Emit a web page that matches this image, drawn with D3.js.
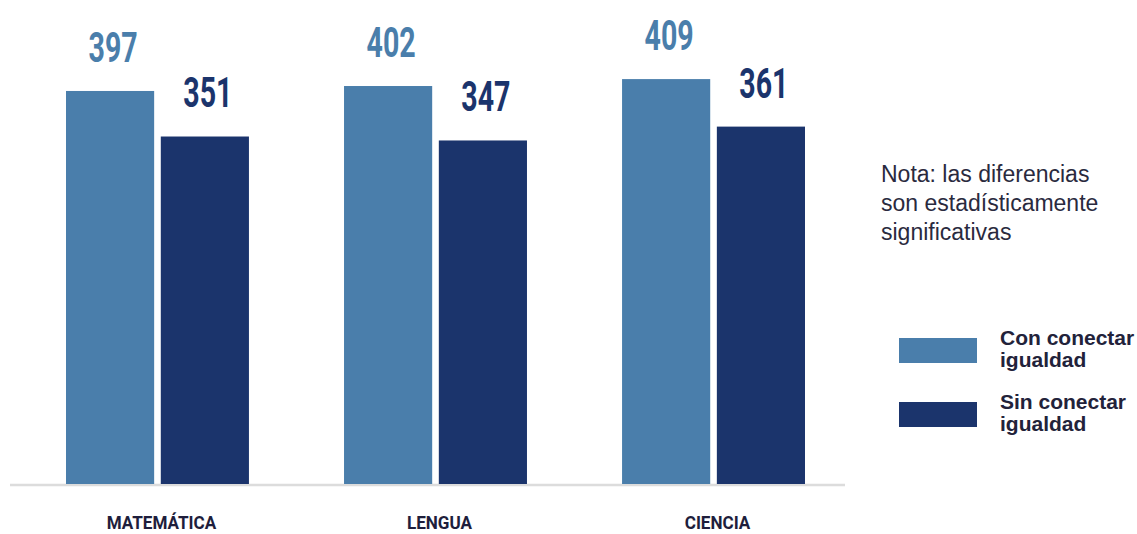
<!DOCTYPE html>
<html>
<head>
<meta charset="utf-8">
<script src="https://cdn.jsdelivr.net/npm/d3@7"></script>
<style>
  body { margin: 0; background: #fff; }
  svg { display: block; }
</style>
</head>
<body>
<div id="chart"></div>
<script>
const categories = ["MATEMÁTICA", "LENGUA", "CIENCIA"];
const seriesNames = ["Con conectar igualdad", "Sin conectar igualdad"];
const conValues = [397, 402, 409];
const sinValues = [351, 347, 361];
const noteLines = ["Nota: las diferencias", "son estadísticamente", "significativas"];
const legendLines = [["Con conectar", "igualdad"], ["Sin conectar", "igualdad"]];

const colors = ["#4a7eab", "#1b346c"];

const data = categories.map((c, i) => ({cat: c, values: [conValues[i], sinValues[i]]}));

const svg = d3.select("#chart").append("svg")
    .attr("width", 1137)
    .attr("height", 534);

const x0 = d3.scaleBand().domain(categories).range([66, 805]).paddingInner(0.342).paddingOuter(0);
const x1 = d3.scaleBand().domain([0, 1]).range([0, x0.bandwidth()]).paddingInner(0.07);
const y = d3.scaleLinear().domain([0, 400]).range([484, 88]);

// baseline
svg.append("line")
    .attr("x1", 10).attr("x2", 845)
    .attr("y1", 485).attr("y2", 485)
    .attr("stroke", "#dcdcdc").attr("stroke-width", 2.5);

const groups = svg.selectAll("g.grp")
    .data(data)
    .join("g")
    .attr("class", "grp")
    .attr("transform", d => `translate(${x0(d.cat)},0)`);

groups.selectAll("rect")
    .data(d => d.values.map((v, k) => ({k, v})))
    .join("rect")
    .attr("x", d => x1(d.k))
    .attr("y", d => y(d.v))
    .attr("width", x1.bandwidth())
    .attr("height", d => y(0) - y(d.v))
    .attr("fill", d => colors[d.k]);

// condensed labels: scale text horizontally about its anchor
const condense = (sel, sx) => sel.each(function() {
    const t = d3.select(this);
    const cx = +t.attr("x"), cy = +t.attr("y");
    t.attr("transform", `translate(${cx},${cy}) scale(${sx},1) translate(${-cx},${-cy})`);
});

groups.selectAll("text.val")
    .data(d => d.values.map((v, k) => ({k, v})))
    .join("text")
    .attr("class", "val")
    .attr("x", d => x1(d.k) + x1.bandwidth() / 2 + 3)
    .attr("y", d => y(d.v) - 29)
    .attr("text-anchor", "middle")
    .attr("font-family", "Roboto, sans-serif")
    .attr("font-weight", 700)
    .attr("font-size", 42)
    .attr("fill", d => colors[d.k])
    .text(d => d.v)
    .call(condense, 0.68);

svg.selectAll("text.cat")
    .data(categories)
    .join("text")
    .attr("class", "cat")
    .attr("x", d => x0(d) + x0.bandwidth() / 2 + 4)
    .attr("y", 529)
    .attr("text-anchor", "middle")
    .attr("font-family", "Roboto, sans-serif")
    .attr("font-weight", 700)
    .attr("font-size", 19)
    .attr("fill", "#1e1e3c")
    .text(d => d)
    .call(condense, 0.9);

// note
svg.append("text")
    .attr("font-family", "'Liberation Sans', Arial, sans-serif")
    .attr("font-size", 23)
    .attr("fill", "#2a2a3e")
    .selectAll("tspan")
    .data(noteLines)
    .join("tspan")
    .attr("x", 881)
    .attr("y", (d, i) => 182 + i * 29)
    .text(d => d);

// legend
const legend = svg.selectAll("g.leg")
    .data(seriesNames)
    .join("g")
    .attr("class", "leg")
    .attr("transform", (d, i) => `translate(899,${338 + i * 64})`);

legend.append("rect")
    .attr("width", 78).attr("height", 25)
    .attr("fill", (d, i) => colors[i]);

legend.append("text")
    .attr("font-family", "'Liberation Sans', Arial, sans-serif")
    .attr("font-weight", 700)
    .attr("font-size", 21)
    .attr("fill", "#22223a")
    .selectAll("tspan")
    .data((d, i) => legendLines[i])
    .join("tspan")
    .attr("x", 101)
    .attr("y", (d, j) => 7 + j * 22)
    .text(d => d);
</script>
</body>
</html>
